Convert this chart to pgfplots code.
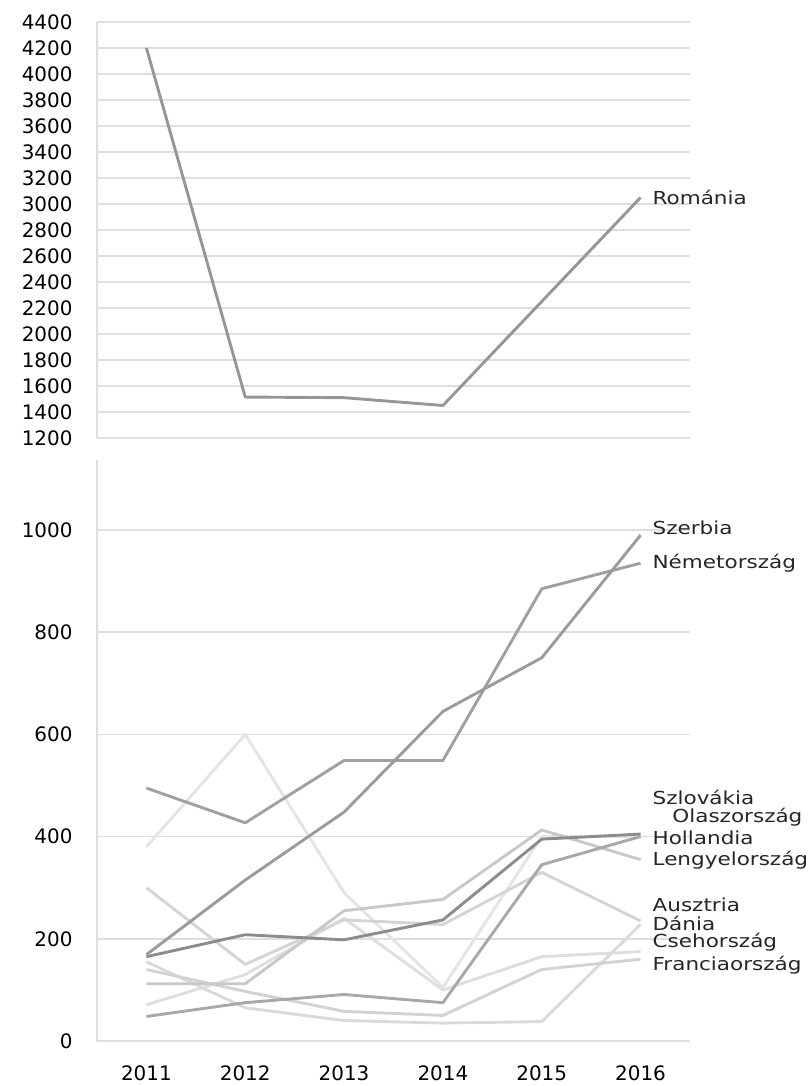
\documentclass[border=0pt]{standalone}
\usepackage{pgfplots}
\pgfplotsset{compat=1.18}
\usepackage{fontspec}
\setmainfont{DejaVu Sans}
\newfontfamily\labfont[FakeStretch=1.2]{DejaVu Sans}
\definecolor{cRo}{RGB}{150,150,150}
\definecolor{cSz}{RGB}{155,155,155}
\definecolor{cNe}{RGB}{160,160,160}
\definecolor{cSk}{RGB}{140,140,140}
\definecolor{cOl}{RGB}{228,228,228}
\definecolor{cHo}{RGB}{168,168,168}
\definecolor{cLe}{RGB}{200,200,200}
\definecolor{cAu}{RGB}{212,212,212}
\definecolor{cDa}{RGB}{218,218,218}
\definecolor{cCs}{RGB}{222,222,222}
\definecolor{cFr}{RGB}{210,210,210}
\definecolor{gridc}{RGB}{222,222,222}
\tikzset{lab/.style={anchor=west, font=\labfont\fontsize{18}{18}\selectfont, inner sep=0pt, text=black!85}}
\pgfplotsset{
  common/.style={
    scale only axis,
    width=593bp,
    xmin=2010.5, xmax=2016.5,
    major tick length=0pt,
    ymajorgrids=true,
    major grid style={draw=gridc, line width=1.5pt},
    axis line style={draw=gridc, line width=1.2pt},
    /pgf/number format/assume math mode=true,
    /pgf/number format/1000 sep={},
    yticklabel style={font=\fontsize{20}{20}\selectfont, xshift=-21bp},
    xticklabel style={font=\fontsize{20}{20}\selectfont, yshift=-21bp},
    every axis plot/.append style={line width=2.9pt, mark=none, line join=round},
    clip=false,
  },
}
\begin{document}
\begin{tikzpicture}
\useasboundingbox (0,0) rectangle (811bp,1086bp);
% top panel
\begin{axis}[common,
  at={(97bp,648bp)}, anchor=south west,
  height=416bp,
  ymin=1200, ymax=4400,
  ytick={1200,1400,...,4400},
  xtick=\empty,
  axis x line=none, axis y line*=left,
]
\addplot[cRo] coordinates {(2011,4200) (2012,1515) (2013,1510) (2014,1450) (2015,2250) (2016,3050)};
\node[lab] at (axis cs:2016.12,3054) {Románia};
\end{axis}
% bottom panel
\begin{axis}[common,
  at={(97bp,45bp)}, anchor=south west,
  height=581bp,
  ymin=0, ymax=1137,
  ytick={0,200,...,1000},
  xtick={2011,2012,...,2016},
  axis lines*=left,
]
\addplot[cOl] coordinates {(2011,380) (2012,600) (2013,290) (2014,105) (2015,400) (2016,400)};
\addplot[cCs] coordinates {(2011,71) (2012,130) (2013,240) (2014,100) (2015,165) (2016,175)};
\addplot[cDa] coordinates {(2011,155) (2012,65) (2013,40) (2014,35) (2015,38) (2016,228)};
\addplot[cFr] coordinates {(2011,140) (2012,97) (2013,58) (2014,50) (2015,140) (2016,160)};
\addplot[cAu] coordinates {(2011,300) (2012,150) (2013,237) (2014,228) (2015,330) (2016,235)};
\addplot[cLe] coordinates {(2011,112) (2012,112) (2013,255) (2014,277) (2015,413) (2016,355)};
\addplot[cHo] coordinates {(2011,48) (2012,75) (2013,91) (2014,75) (2015,345) (2016,400)};
\addplot[cSk] coordinates {(2011,165) (2012,208) (2013,198) (2014,237) (2015,395) (2016,405)};
\addplot[cNe] coordinates {(2011,495) (2012,427) (2013,549) (2014,549) (2015,885) (2016,935)};
\addplot[cSz] coordinates {(2011,169) (2012,315) (2013,448) (2014,645) (2015,750) (2016,990)};
\node[lab] at (axis cs:2016.12,1004) {Szerbia};
\node[lab] at (axis cs:2016.12,935) {Németország};
\node[lab] at (axis cs:2016.12,477) {Szlovákia};
\node[lab] at (axis cs:2016.32,438) {Olaszország};
\node[lab] at (axis cs:2016.12,397) {Hollandia};
\node[lab] at (axis cs:2016.12,354) {Lengyelország};
\node[lab] at (axis cs:2016.12,266) {Ausztria};
\node[lab] at (axis cs:2016.12,231) {Dánia};
\node[lab] at (axis cs:2016.12,194) {Csehország};
\node[lab] at (axis cs:2016.12,149) {Franciaország};
\end{axis}
\end{tikzpicture}
\end{document}
